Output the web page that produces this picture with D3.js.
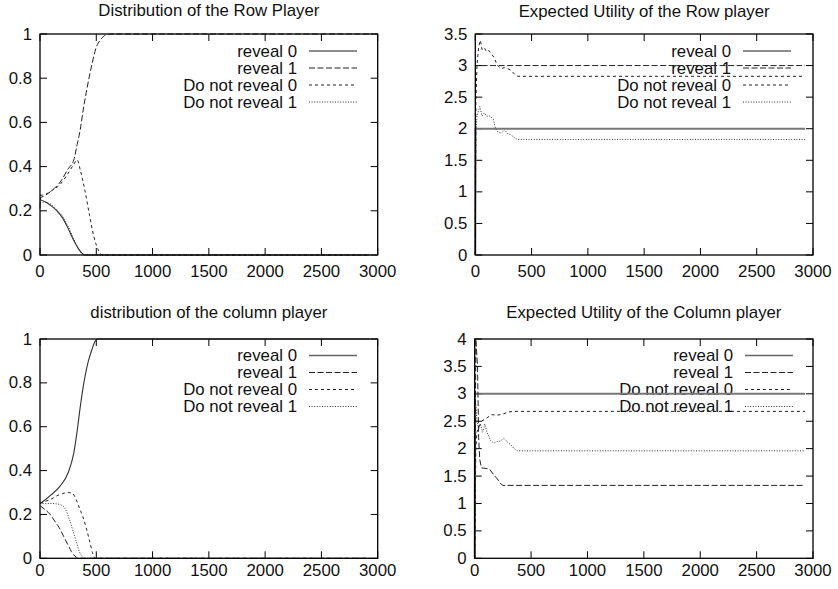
<!DOCTYPE html>
<html><head><meta charset="utf-8">
<script src="https://cdn.jsdelivr.net/npm/d3@7"></script>
<style>html,body{margin:0;padding:0;background:#fff}svg{display:block}</style>
</head><body>
<svg id="c" width="838" height="589"></svg>
<script>
// ---- data ----
const seriesNames = ["reveal 0", "reveal 1", "Do not reveal 0", "Do not reveal 1"];
const xTicks = [0, 500, 1000, 1500, 2000, 2500, 3000];
const distTicks = [0, 0.2, 0.4, 0.6, 0.8, 1];
const rowUtilTicks = [0, 0.5, 1, 1.5, 2, 2.5, 3, 3.5];
const colUtilTicks = [0, 0.5, 1, 1.5, 2, 2.5, 3, 3.5, 4];
const titles = ["Distribution of the Row Player", "Expected Utility of the Row player",
                "distribution of the column player", "Expected Utility of the Column player"];

// Distribution of the Row Player
const rowDistReveal0 = [[0,0.25],[50,0.24],[100,0.222],[150,0.2],[200,0.168],[250,0.12],[300,0.066],[340,0.03],[380,0.005],[400,0],[2930,0]];
const rowDistReveal1 = [[0,0.21],[5,0.26],[30,0.265],[100,0.29],[180,0.33],[250,0.39],[300,0.43],[330,0.5],[355,0.56],[385,0.66],[420,0.76],[460,0.86],[500,0.94],[540,0.975],[580,0.995],[620,1],[2930,1]];
const rowDistNot0 = [[0,0.27],[50,0.275],[100,0.29],[180,0.32],[250,0.37],[300,0.41],[330,0.43],[360,0.38],[400,0.29],[440,0.18],[480,0.08],[520,0.02],[560,0],[2930,0]];
const rowDistNot1 = [[0,0.24],[50,0.238],[100,0.228],[150,0.205],[200,0.176],[250,0.13],[300,0.072],[350,0.02],[400,0],[2930,0]];

// Expected Utility of the Row player
const rowUtilReveal0 = [[0,0],[2,2],[2930,2]];
const rowUtilReveal1 = [[0,0],[2,3],[2930,3]];
const rowUtilNot0 = [[0,0],[5,2.4],[15,3.0],[30,3.3],[45,3.4],[60,3.25],[80,3.28],[100,3.22],[120,3.24],[150,3.17],[170,3.12],[190,3.02],[210,2.98],[230,2.95],[260,2.97],[290,2.95],[320,2.92],[350,2.86],[380,2.83],[2930,2.83]];
const rowUtilNot1 = [[0,0],[5,1.9],[15,2.2],[40,2.35],[60,2.2],[80,2.25],[100,2.2],[130,2.2],[160,2.15],[180,2.0],[200,1.95],[230,1.93],[260,1.98],[290,1.92],[320,1.9],[360,1.84],[380,1.83],[2930,1.83]];

// distribution of the column player
const colDistReveal0 = [[0,0.25],[50,0.268],[100,0.29],[180,0.33],[250,0.39],[300,0.48],[330,0.58],[355,0.68],[380,0.77],[400,0.83],[430,0.9],[460,0.95],[490,0.99],[510,1],[2930,1]];
const colDistReveal1 = [[0,0.24],[50,0.22],[90,0.2],[130,0.17],[170,0.14],[210,0.1],[250,0.06],[280,0.03],[310,0.01],[340,0],[2930,0]];
const colDistNot0 = [[0,0.25],[50,0.26],[100,0.27],[150,0.285],[200,0.295],[250,0.3],[290,0.295],[320,0.27],[350,0.23],[380,0.19],[410,0.14],[440,0.08],[470,0.02],[490,0],[2930,0]];
const colDistNot1 = [[0,0.25],[50,0.25],[100,0.25],[150,0.248],[200,0.24],[230,0.22],[260,0.18],[290,0.13],[320,0.08],[350,0.03],[380,0.005],[400,0],[2930,0]];

// Expected Utility of the Column player
const colUtilReveal0 = [[0,0],[2,3],[2930,3]];
const colUtilReveal1 = [[0,0],[10,4.0],[25,3.5],[35,2.2],[45,1.8],[60,1.65],[130,1.63],[170,1.52],[200,1.45],[230,1.36],[250,1.33],[2930,1.33]];
const colUtilNot0 = [[0,0],[10,2.0],[20,2.3],[40,2.4],[60,2.5],[100,2.55],[150,2.62],[200,2.61],[250,2.63],[300,2.67],[350,2.68],[2930,2.68]];
const colUtilNot1 = [[0,0],[10,2.8],[20,2.5],[35,2.35],[50,2.45],[70,2.3],[90,2.45],[110,2.3],[140,2.15],[170,2.1],[200,2.13],[230,2.14],[260,2.19],[290,2.12],[320,2.07],[350,2.0],[380,1.96],[2930,1.96]];

// ---- drawing ----
const svg = d3.select("#c");
const FONT = "'Liberation Sans', Arial, Helvetica, sans-serif";
const FS = 16, SX = 1.05;

function txt(g, x, y, s, anchor) {
  g.append("text").attr("transform", `translate(${x},${y}) scale(${SX},1)`)
    .attr("text-anchor", anchor).attr("font-family", FONT).attr("font-size", FS)
    .attr("fill", "#111").text(s);
}

const styles = [
  {dash: null, w: 1.1, c: "#333"},
  {dash: "6,2.5", w: 1, c: "#222"},
  {dash: "3,3", w: 1, c: "#222"},
  {dash: "1,1.6", w: 1, c: "#333"}
];

const panels = [
  {box: [40, 34, 377.7, 255], ymax: 1, yt: distTicks, title: titles[0], titleY: 15.5,
   data: [rowDistReveal0, rowDistReveal1, rowDistNot0, rowDistNot1], smooth: true, legX: 297, legY: 51, xlabY: 277, util: false},
  {box: [475.3, 34, 813, 255], ymax: 3.5, yt: rowUtilTicks, title: titles[1], titleY: 16.5,
   data: [rowUtilReveal0, rowUtilReveal1, rowUtilNot0, rowUtilNot1], smooth: false, legX: 731, legY: 51, xlabY: 277, util: true},
  {box: [40, 339, 377.7, 558.3], ymax: 1, yt: distTicks, title: titles[2], titleY: 318,
   data: [colDistReveal0, colDistReveal1, colDistNot0, colDistNot1], smooth: true, legX: 297, legY: 355.5, xlabY: 576, util: false},
  {box: [474.7, 339, 813, 558.3], ymax: 4, yt: colUtilTicks, title: titles[3], titleY: 317.5,
   data: [colUtilReveal0, colUtilReveal1, colUtilNot0, colUtilNot1], smooth: false, legX: 733, legY: 355.5, xlabY: 576, util: true}
];

panels.forEach(p => {
  const [x0, y0, x1, y1] = p.box;
  const g = svg.append("g");
  const x = d3.scaleLinear().domain([0, 3000]).range([x0, x1]);
  const y = d3.scaleLinear().domain([0, p.ymax]).range([y1, y0]);
  const TL = 7;

  txt(g, (x0 + x1) / 2, p.titleY, p.title, "middle");

  const tg = g.append("g").attr("stroke", "#000").attr("stroke-width", 1);
  xTicks.forEach(t => {
    const xx = x(t);
    tg.append("line").attr("x1", xx).attr("x2", xx).attr("y1", y1).attr("y2", y1 - TL);
    tg.append("line").attr("x1", xx).attr("x2", xx).attr("y1", y0).attr("y2", y0 + TL);
    txt(g, xx, p.xlabY, String(t), "middle");
  });
  p.yt.forEach(t => {
    const yy = y(t);
    tg.append("line").attr("x1", x0).attr("x2", x0 + TL).attr("y1", yy).attr("y2", yy);
    tg.append("line").attr("x1", x1).attr("x2", x1 - TL).attr("y1", yy).attr("y2", yy);
    txt(g, x0 - 8, yy + 5.5, String(t), "end");
  });

  seriesNames.forEach((n, i) => {
    const ly = p.legY + i * 17;
    txt(g, p.legX, ly + 5.5, n, "end");
    const st = styles[i];
    g.append("line").attr("x1", p.legX + 12).attr("x2", p.legX + 60).attr("y1", ly).attr("y2", ly)
      .attr("stroke", i === 0 ? "#666" : st.c).attr("stroke-width", i === 0 ? 1.6 : st.w)
      .attr("stroke-dasharray", st.dash);
  });

  const line = d3.line().x(d => x(d[0])).y(d => y(d[1]))
    .curve(p.smooth ? d3.curveMonotoneX : d3.curveLinear);
  p.data.forEach((ser, i) => {
    const st = styles[i];
    const solidUtil = p.util && i === 0;
    g.append("path").attr("d", line(ser)).attr("fill", "none")
      .attr("stroke", solidUtil ? "#777" : st.c)
      .attr("stroke-width", solidUtil ? 2 : st.w)
      .attr("stroke-dasharray", st.dash);
  });

  g.append("rect").attr("x", x0).attr("y", y0).attr("width", x1 - x0).attr("height", y1 - y0)
    .attr("fill", "none").attr("stroke", "#000").attr("stroke-width", 1.3);
});
</script>
</body></html>
